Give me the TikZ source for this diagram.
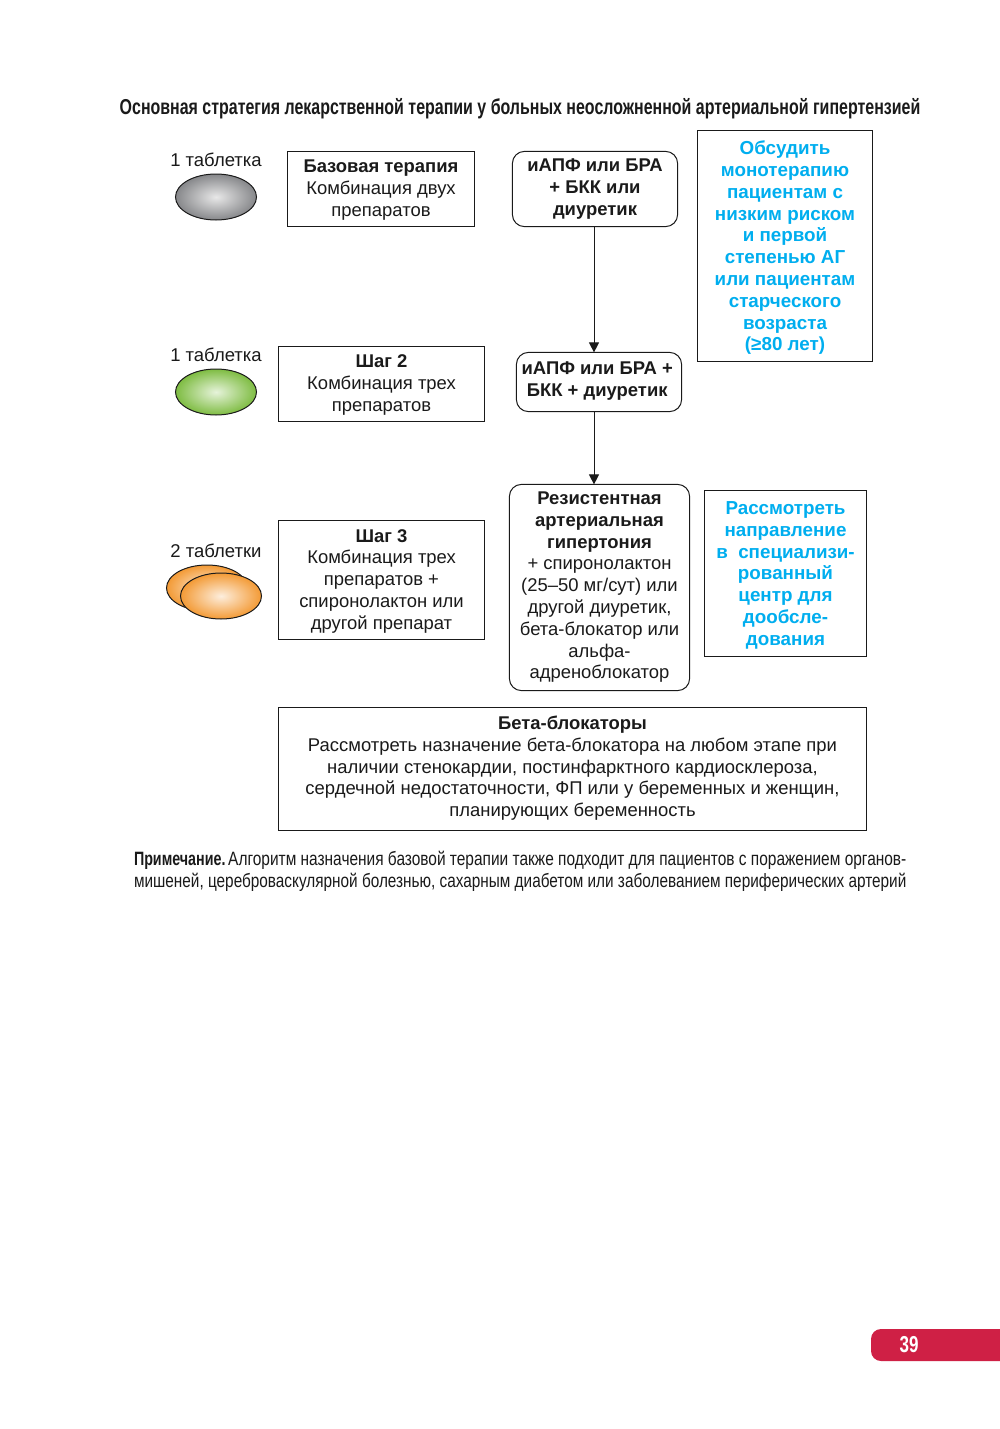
\documentclass[tikz,border=0pt]{standalone}
\usepackage{fontspec}
\setmainfont{Liberation Sans}
\newfontfamily\narrowfont[FakeStretch=0.74]{Liberation Sans}
\newfontfamily\notefont[FakeStretch=0.795]{Liberation Sans}
\newfontfamily\notefonta[FakeStretch=0.801]{Liberation Sans}
\usetikzlibrary{shapes.geometric,arrows.meta}
\definecolor{ink}{HTML}{1A1A1A}
\definecolor{cyantxt}{HTML}{00AEEF}
\definecolor{tabred}{HTML}{CF2045}
\definecolor{grayin}{HTML}{E8E8E8}
\definecolor{grayout}{HTML}{86878A}
\definecolor{greenin}{HTML}{E6F3DA}
\definecolor{greenout}{HTML}{7EBC42}
\definecolor{orangein}{HTML}{FDEEDD}
\definecolor{orangeout}{HTML}{F39A35}
\tikzset{
 x=0.5pt,y=-0.5pt,
 every node/.style={inner sep=0pt,outer sep=0pt,text=ink},
 sqbox/.style={draw=ink,line width=0.5pt},
 rdbox/.style={draw=ink,line width=0.5pt,rounded corners=6pt},
 txt/.style={font=\fontsize{9.22}{10.9}\selectfont,align=center,yshift=#1},
 bluetxt/.style={txt=#1,text=cyantxt,font=\fontsize{9.4}{10.9}\selectfont\bfseries},
 pill/.style={ellipse,draw=ink,line width=0.5pt,minimum width=40.5pt,minimum height=23pt},
 flow/.style={draw=ink,line width=0.5pt,-{Triangle[length=5pt,width=5pt]}},
 lbl/.style={font=\fontsize{9.25}{10.9}\selectfont},
}
\begin{document}
\begin{tikzpicture}
\useasboundingbox (0,0) rectangle (1000,1429);
\fill[white] (0,0) rectangle (1000,1429);
\node[font=\narrowfont\fontsize{10.78}{12}\selectfont\bfseries] (title) at (520,108.5) {Основная стратегия лекарственной терапии у больных неосложненной артериальной гипертензией};

\node[lbl] (l1) at (216,160) {1 таблетка};
\node[pill,shade,inner color=grayin,outer color=grayout] (p1) at (216,197) {};
\node[lbl] (l2) at (216,355) {1 таблетка};
\node[pill,shade,inner color=greenin,outer color=greenout] (p2) at (216,392) {};
\node[lbl] (l3) at (216,551) {2 таблетки};
\node[pill,shade,inner color=orangein,outer color=orangeout] (p3) at (207,588) {};
\node[pill,shade,inner color=orangein,outer color=orangeout] (p4) at (221,596) {};

\node[sqbox,minimum width=93.6pt,minimum height=37.6pt] (base) at (381,189) {};
\node[txt=-0.6pt] (baset) at (base.center) {\textbf{Базовая терапия}\\Комбинация двух\\препаратов};
\node[sqbox,minimum width=103.1pt,minimum height=37.6pt] (s2) at (381.5,384) {};
\node[txt=-0.5pt] (s2t) at (s2.center) {\textbf{Шаг 2}\\Комбинация трех\\препаратов};
\node[sqbox,minimum width=103.1pt,minimum height=59.6pt] (s3) at (381.5,580) {};
\node[txt=-0.6pt] (s3t) at (s3.center) {\textbf{Шаг 3}\\Комбинация трех\\препаратов +\\спиронолактон или\\другой препарат};

\node[rdbox,minimum width=82.6pt,minimum height=37.6pt] (r1) at (595,189) {};
\node[txt=0pt] (r1t) at (r1.center) {\textbf{иАПФ или БРА}\\\textbf{+ БКК или}\\\textbf{диуретик}};
\node[rdbox,minimum width=82.6pt,minimum height=29.6pt] (r2) at (599,382) {};
\node[txt=0.3pt,xshift=-0.9pt] (r2t) at (r2.center) {\textbf{иАПФ или БРА +}\\\textbf{БКК + диуретик\hspace{3.6pt}}};
\node[rdbox,minimum width=90.1pt,minimum height=103.1pt] (r3) at (599.5,587.5) {};
\node[txt=0.1pt] (r3t) at (r3.center) {\textbf{Резистентная}\\\textbf{артериальная}\\\textbf{гипертония}\\+ спиронолактон\\(25–50 мг/сут) или\\другой диуретик,\\бета-блокатор или\\альфа-\\адреноблокатор};

\node[sqbox,minimum width=87.6pt,minimum height=115.6pt] (b1) at (785,246) {};
\node[bluetxt=-0.9pt] (b1t) at (b1.center) {Обсудить\\монотерапию\\пациентам с\\низким риском\\и первой\\степенью АГ\\или пациентам\\старческого\\возраста\\(≥80 лет)};
\node[sqbox,minimum width=81.1pt,minimum height=83.1pt] (b2) at (785.5,573.5) {};
\node[bluetxt=-0.9pt] (b2t) at (b2.center) {Рассмотреть\\направление\\в\ \ специализи-\\рованный\\центр для\\дообсле-\\дования};

\node[sqbox,minimum width=294.1pt,minimum height=61.6pt] (beta) at (572.5,769) {};
\node[txt=0.4pt] (betat) at (beta.center) {\textbf{Бета-блокаторы}\\Рассмотреть назначение бета-блокатора на любом этапе при\\наличии стенокардии, постинфарктного кардиосклероза,\\сердечной недостаточности, ФП или у беременных и женщин,\\планирующих беременность};

\coordinate (axis) at (594,300);
\draw[flow] (axis |- r1.south) -- (axis |- r2.north);
\draw[flow] (axis |- r2.south) -- (axis |- r3.north);

\node[anchor=west,font=\notefonta\fontsize{9.65}{11}\selectfont] (n1) at (134,860) {{\narrowfont\bfseries Примечание.} \hspace{-1.5pt}Алгоритм назначения базовой терапии также подходит для пациентов с поражением органов-};
\node[anchor=west,font=\notefont\fontsize{9.65}{11}\selectfont] (n2) at (134,882) {мишеней, цереброваскулярной болезнью, сахарным диабетом или заболеванием периферических артерий};

\fill[tabred] (1000,1329) [rounded corners=5pt] -- (871,1329) -- (871,1361) [sharp corners] -- (1000,1361) -- cycle;
\node[font=\narrowfont\fontsize{11.5}{13}\selectfont\bfseries,text=white] (pg) at (909,1345) {39};
\end{tikzpicture}
\end{document}
